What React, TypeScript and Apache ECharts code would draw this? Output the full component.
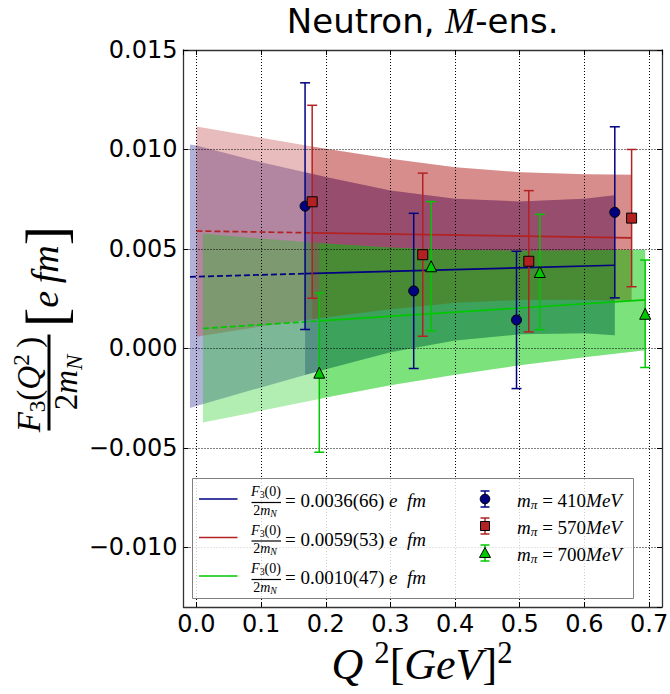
import React, { useEffect, useRef } from "react";
import * as echarts from "echarts";

// ---------- data ----------
// m_pi = 410 MeV (blue circles)
const q2Blue = [0.168, 0.336, 0.495, 0.647];
const f3Blue = [0.00715, 0.00289, 0.00143, 0.00684];
const errBlue = [0.0062, 0.0039, 0.00345, 0.0043];
// m_pi = 570 MeV (red squares)
const q2Red = [0.179, 0.35, 0.514, 0.673];
const f3Red = [0.00737, 0.00471, 0.00438, 0.00655];
const errRed = [0.00485, 0.0041, 0.00355, 0.00345];
// m_pi = 700 MeV (green triangles)
const q2Green = [0.19, 0.363, 0.531, 0.694];
const f3Green = [-0.00122, 0.00413, 0.00384, 0.00174];
const errGreen = [0.004, 0.00325, 0.0029, 0.0027];

// fit lines: [extrapolation start, first data Q2, last data Q2]
const fitBlueX = [-0.01, 0.168, 0.647];
const fitBlueY = [0.0036, 0.00376, 0.00418];
const fitRedX = [0.0, 0.179, 0.673];
const fitRedY = [0.0059, 0.00581, 0.00556];
const fitGreenX = [0.01, 0.19, 0.694];
const fitGreenY = [0.001, 0.00138, 0.00244];

// error bands of the fits
const bandBlueX = [-0.01, 0.0, 0.1, 0.168, 0.2, 0.3, 0.4, 0.5, 0.6, 0.647];
const bandBlueUp = [0.01025, 0.0102, 0.00936, 0.00885, 0.00861, 0.00794, 0.00752, 0.00739, 0.00752, 0.0077];
const bandBlueLo = [-0.003, -0.0029, -0.00196, -0.00134, -0.00105, -0.0002, 0.0004, 0.00071, 0.00076, 0.00066];

const bandRedX = [0.0, 0.1, 0.179, 0.2, 0.3, 0.4, 0.5, 0.6, 0.673];
const bandRedUp = [0.01115, 0.01059, 0.01015, 0.01003, 0.00953, 0.00911, 0.00886, 0.00876, 0.00873];
const bandRedLo = [0.00058, 0.00111, 0.00147, 0.00157, 0.00197, 0.00229, 0.00244, 0.00244, 0.00239];

const bandGreenX = [0.01, 0.1, 0.19, 0.2, 0.3, 0.4, 0.5, 0.6, 0.694];
const bandGreenUp = [0.00577, 0.00552, 0.0053, 0.00527, 0.00507, 0.00496, 0.00491, 0.00493, 0.00496];
const bandGreenLo = [-0.00373, -0.00314, -0.00254, -0.00247, -0.00185, -0.00132, -0.00085, -0.00045, -0.00009];

const legendFit = ["0.0036(66)", "0.0059(53)", "0.0010(47)"];
const legendMpi = ["410", "570", "700"];

// ---------- styling ----------
const NAVY = "#000080";
const RED = "#b22222";
const GREEN = "#00c800";
const SERIF = "'Liberation Serif', 'Times New Roman', serif";
const SANS = "'DejaVu Sans', sans-serif";

function rgba(hex: string, a: number) {
  const n = parseInt(hex.slice(1), 16);
  return `rgba(${(n >> 16) & 255},${(n >> 8) & 255},${n & 255},${a})`;
}

function mathRich(F: number) {
  const L = 1.2 * F;
  return {
    r: { fontFamily: SERIF, fontSize: F, lineHeight: L, fill: "#000" },
    i: { fontFamily: SERIF, fontStyle: "italic", fontSize: F, lineHeight: L, fill: "#000" },
    sup: { fontFamily: SERIF, fontSize: 0.7 * F, lineHeight: 0.45 * F, verticalAlign: "top", fill: "#000" },
    sub: { fontFamily: SERIF, fontSize: 0.7 * F, lineHeight: 0.75 * F, verticalAlign: "bottom", fill: "#000" },
    subi: { fontFamily: SERIF, fontStyle: "italic", fontSize: 0.7 * F, lineHeight: 0.75 * F, verticalAlign: "bottom", fill: "#000" },
  };
}

function bandSeries(xs: number[], up: number[], lo: number[], color: string, xStart: number) {
  const data = xs.map((x, i) => [x, up[i], lo[i]]).filter((d) => d[0] >= xStart - 1e-9);
  return {
    type: "custom",
    z: 0,
    silent: true,
    data,
    encode: { x: 0, y: [1, 2] },
    renderItem: (params: any, api: any) => {
      if (params.dataIndex !== 0) return { type: "group", children: [] };
      const top = data.map((d) => api.coord([d[0], d[1]]));
      const bot = data.map((d) => api.coord([d[0], d[2]])).reverse();
      return {
        type: "polygon",
        shape: { points: top.concat(bot) },
        style: { fill: rgba(color, 0.3), stroke: "none", lineWidth: 0 },
      };
    },
  };
}

function fitSeries(xs: number[], ys: number[], color: string) {
  return [
    {
      type: "line",
      z: 2,
      silent: true,
      symbol: "none",
      data: [[xs[0], ys[0]], [xs[1], ys[1]]],
      lineStyle: { color, width: 1.7, type: [6, 3] },
    },
    {
      type: "line",
      z: 2,
      silent: true,
      symbol: "none",
      data: [[xs[1], ys[1]], [xs[2], ys[2]]],
      lineStyle: { color, width: 1.7 },
    },
  ];
}

function errSeries(xs: number[], ys: number[], es: number[], color: string) {
  return {
    type: "custom",
    z: 3,
    silent: true,
    data: xs.map((x, i) => [x, ys[i], es[i]]),
    encode: { x: 0, y: 1 },
    renderItem: (params: any, api: any) => {
      const x = api.value(0);
      const y = api.value(1);
      const e = api.value(2);
      const t = api.coord([x, y + e]);
      const b = api.coord([x, y - e]);
      const hw = 5;
      const st = { stroke: color, lineWidth: 1.5 };
      return {
        type: "group",
        children: [
          { type: "line", shape: { x1: t[0], y1: t[1], x2: b[0], y2: b[1] }, style: st },
          { type: "line", shape: { x1: t[0] - hw, y1: t[1], x2: t[0] + hw, y2: t[1] }, style: st },
          { type: "line", shape: { x1: b[0] - hw, y1: b[1], x2: b[0] + hw, y2: b[1] }, style: st },
        ],
      };
    },
  };
}

function scatterSeries(xs: number[], ys: number[], color: string, symbol: string, size: number) {
  return {
    type: "scatter",
    z: 4,
    silent: true,
    symbol,
    symbolSize: size,
    data: xs.map((x, i) => [x, ys[i]]),
    itemStyle: { color, borderColor: "#000", borderWidth: 1, opacity: 1 },
  };
}

const XMIN = -0.02, XMAX = 0.72, YMIN = -0.013, YMAX = 0.015;
const frameLine = { show: true, onZero: false, lineStyle: { color: "#333", width: 1.3 } };
const tickIn = { show: true, inside: true, length: 5, lineStyle: { color: "#000", width: 1 } };

function xLabel(v: number) {
  const k = Math.round(v * 10);
  if (Math.abs(v * 10 - k) > 1e-6 || k < 0 || k > 7) return "";
  return (k / 10).toFixed(1);
}
function yLabel(v: number) {
  const k = Math.round(v / 0.005);
  if (Math.abs(v / 0.005 - k) > 1e-6) return "";
  const s = (k * 0.005).toFixed(3);
  return k < 0 ? "\u2212" + s.replace("-", "") : s.replace("-", "");
}

function buildLegend() {
  const els: any[] = [];
  els.push({
    type: "rect",
    z: 100,
    shape: { x: 192.5, y: 478.5, width: 441, height: 120 },
    style: { fill: "rgba(255,255,255,0.8)", stroke: "#808080", lineWidth: 1 },
  });
  const fitColors = [NAVY, RED, GREEN];
  const rowsFit = [499, 537.5, 576];
  rowsFit.forEach((ry, i) => {
    els.push({
      type: "line", z: 101,
      shape: { x1: 199, y1: ry, x2: 237.5, y2: ry },
      style: { stroke: fitColors[i], lineWidth: 1.7 },
    });
    els.push({
      type: "text", z: 101, x: 266, y: ry - 7.5,
      style: { text: "{i|F}{sub|3}{r|(0)}", rich: mathRich(14), align: "center", verticalAlign: "middle", textAlign: "center", textVerticalAlign: "middle" },
    });
    els.push({
      type: "line", z: 101,
      shape: { x1: 251.5, y1: ry + 3.5, x2: 281, y2: ry + 3.5 },
      style: { stroke: "#000", lineWidth: 1.2 },
    });
    els.push({
      type: "text", z: 101, x: 265, y: ry + 11,
      style: { text: "{r|2}{i|m}{subi|N}", rich: mathRich(14), align: "center", verticalAlign: "middle", textAlign: "center", textVerticalAlign: "middle" },
    });
    els.push({
      type: "text", z: 101, x: 285, y: ry + 1.5,
      style: { text: `{r|= ${legendFit[i]} }{i|e  fm}`, rich: mathRich(19), align: "left", verticalAlign: "middle", textAlign: "left", textVerticalAlign: "middle" },
    });
  });
  const rowsPts = [499, 526, 553];
  const cols = [NAVY, RED, GREEN];
  rowsPts.forEach((ry, i) => {
    const cx = 485;
    const st = { stroke: cols[i], lineWidth: 1.5 };
    els.push({ type: "line", z: 101, shape: { x1: cx, y1: ry - 8, x2: cx, y2: ry + 8 }, style: st });
    els.push({ type: "line", z: 101, shape: { x1: cx - 4.5, y1: ry - 8, x2: cx + 4.5, y2: ry - 8 }, style: st });
    els.push({ type: "line", z: 101, shape: { x1: cx - 4.5, y1: ry + 8, x2: cx + 4.5, y2: ry + 8 }, style: st });
    const mst = { fill: cols[i], stroke: "#000", lineWidth: 1 };
    if (i === 0) els.push({ type: "circle", z: 102, shape: { cx, cy: ry, r: 4.8 }, style: mst });
    if (i === 1) els.push({ type: "rect", z: 102, shape: { x: cx - 4.5, y: ry - 4.5, width: 9, height: 9 }, style: mst });
    if (i === 2)
      els.push({ type: "polygon", z: 102, shape: { points: [[cx, ry - 5.5], [cx - 5.5, ry + 4.5], [cx + 5.5, ry + 4.5]] }, style: mst });
    els.push({
      type: "text", z: 101, x: 517, y: ry + 1,
      style: { text: `{i|m}{subi|\u03c0}{r| = ${legendMpi[i]}}{i|MeV}`, rich: mathRich(19), align: "left", verticalAlign: "middle", textAlign: "left", textVerticalAlign: "middle" },
    });
  });
  return els;
}

function buildGraphics() {
  const yl = mathRich(33);
  const els: any[] = [
    {
      type: "text", z: 100, x: 422.7, y: 21,
      style: {
        text: "{a|Neutron, }{m|M}{a|-ens.}",
        rich: {
          a: { fontFamily: SANS, fontSize: 34, fill: "#000", lineHeight: 40 },
          m: { fontFamily: SERIF, fontStyle: "italic", fontSize: 36, fill: "#000", lineHeight: 40 },
        },
        align: "center", verticalAlign: "middle", textAlign: "center", textVerticalAlign: "middle",
      },
    },
    {
      type: "text", z: 100, x: 422, y: 664,
      style: {
        text: "{i|Q}{r| }{sup|2}{r|[}{i|GeV}{r|]}{sup|2}",
        rich: { ...mathRich(44), r: { fontFamily: SERIF, fontSize: 44, lineHeight: 52, fill: "#000" } },
        align: "center", verticalAlign: "middle", textAlign: "center", textVerticalAlign: "middle",
      },
    },
    {
      type: "group", z: 100, x: 49, y: 382.5, rotation: Math.PI / 2,
      children: [
        { type: "line", z: 100, shape: { x1: -48, y1: 0, x2: 48, y2: 0 }, style: { stroke: "#000", lineWidth: 3 } },
        {
          type: "text", z: 100, x: -2, y: -20,
          style: { text: "{i|F}{sub|3}{r|(}{i|Q}{sup|2}{r|\u2009)}", rich: yl, align: "center", verticalAlign: "middle", textAlign: "center", textVerticalAlign: "middle" },
        },
        {
          type: "text", z: 100, x: 0, y: 17,
          style: { text: "{r|2}{i|m}{subi|N}", rich: yl, align: "center", verticalAlign: "middle", textAlign: "center", textVerticalAlign: "middle" },
        },
        {
          type: "text", z: 100, x: 106, y: -4,
          style: {
            text: "{br|[}{i|e\u2009fm}{br|]}",
            rich: { ...mathRich(38), br: { fontFamily: SERIF, fontSize: 58, lineHeight: 62, fill: "#000" } },
            align: "center", verticalAlign: "middle", textAlign: "center", textVerticalAlign: "middle",
          },
        },
      ],
    },
  ];
  return els.concat(buildLegend());
}

const option: any = {
  animation: false,
  backgroundColor: "#fff",
  grid: { left: 183.5, right: 8, top: 50, bottom: 87, containLabel: false, outerBoundsMode: "none" },
  xAxis: [
    {
      type: "value", position: "bottom", min: XMIN, max: XMAX, splitNumber: 7, z: 1,
      axisLine: frameLine, axisTick: tickIn,
      axisLabel: { formatter: xLabel, fontFamily: SANS, fontSize: 24, color: "#000", margin: 5, showMinLabel: false, showMaxLabel: false },
      splitLine: { show: true, lineStyle: { color: "#000", type: [1, 2], width: 1 } },
    },
    {
      type: "value", position: "top", min: XMIN, max: XMAX, splitNumber: 7, z: 1,
      axisLine: frameLine, axisTick: tickIn, axisLabel: { show: false }, splitLine: { show: false },
    },
  ],
  yAxis: [
    {
      type: "value", position: "left", min: YMIN, max: YMAX, splitNumber: 6, z: 1,
      axisLine: frameLine, axisTick: tickIn,
      axisLabel: { formatter: yLabel, fontFamily: SANS, fontSize: 24, color: "#000", margin: 6, showMinLabel: false, showMaxLabel: true },
      splitLine: { show: true, lineStyle: { color: "#000", type: [1, 2], width: 1 } },
    },
    {
      type: "value", position: "right", min: YMIN, max: YMAX, splitNumber: 6, z: 1,
      axisLine: frameLine, axisTick: tickIn, axisLabel: { show: false }, splitLine: { show: false },
    },
  ],
  series: [
    bandSeries(bandBlueX, bandBlueUp, bandBlueLo, NAVY, bandBlueX[0]),
    bandSeries(bandBlueX, bandBlueUp, bandBlueLo, NAVY, q2Blue[0]),
    bandSeries(bandRedX, bandRedUp, bandRedLo, RED, bandRedX[0]),
    bandSeries(bandRedX, bandRedUp, bandRedLo, RED, q2Red[0]),
    bandSeries(bandGreenX, bandGreenUp, bandGreenLo, GREEN, bandGreenX[0]),
    bandSeries(bandGreenX, bandGreenUp, bandGreenLo, GREEN, q2Green[0]),
    ...fitSeries(fitBlueX, fitBlueY, NAVY),
    ...fitSeries(fitRedX, fitRedY, RED),
    ...fitSeries(fitGreenX, fitGreenY, GREEN),
    errSeries(q2Blue, f3Blue, errBlue, NAVY),
    errSeries(q2Red, f3Red, errRed, RED),
    errSeries(q2Green, f3Green, errGreen, GREEN),
    scatterSeries(q2Blue, f3Blue, NAVY, "circle", 10),
    scatterSeries(q2Red, f3Red, RED, "rect", 10),
    scatterSeries(q2Green, f3Green, GREEN, "triangle", 11),
  ],
  graphic: { elements: buildGraphics() },
};

export default function App() {
  const ref = useRef<HTMLDivElement>(null);
  useEffect(() => {
    document.body.style.margin = "0";
    const chart = echarts.init(ref.current!, null, { renderer: "svg" });
    chart.setOption(option);
    return () => chart.dispose();
  }, []);
  return <div ref={ref} style={{ position: "fixed", left: 0, top: 0, width: 670, height: 694 }} />;
}
